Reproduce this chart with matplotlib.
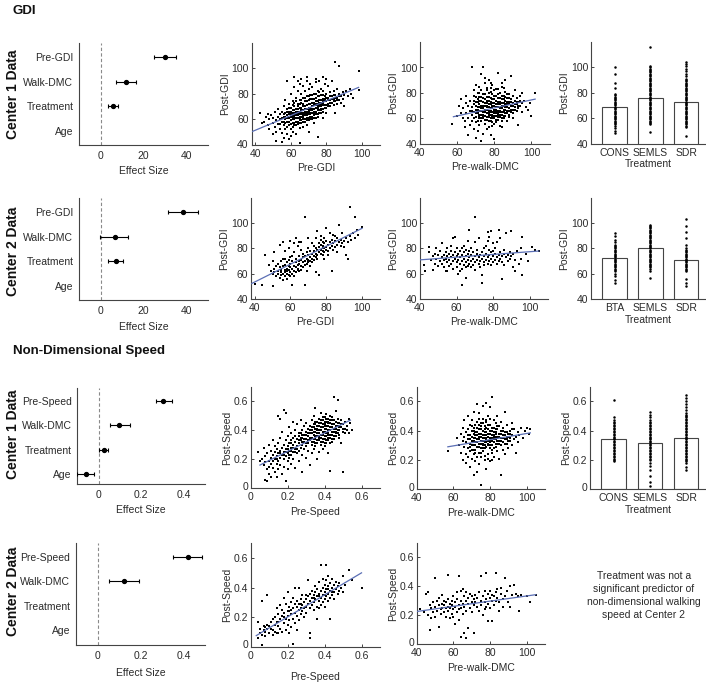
import numpy as np
import matplotlib
matplotlib.use('Agg')
import matplotlib.pyplot as plt
import matplotlib.transforms as mtransforms

plt.rcParams['font.family'] = ['Liberation Sans', 'DejaVu Sans']
TXT = '#2a2a2a'
AXC = '#444444'
FITC = '#5b6fb5'
NAN = np.nan

# ---------------- forest plot data ----------------
forest_labels_gdi = ['Pre-GDI', 'Walk-DMC', 'Treatment', 'Age']
forest_labels_spd = ['Pre-Speed', 'Walk-DMC', 'Treatment', 'Age']

c1_gdi_est = [29.9, 11.8, 5.9, NAN]
c1_gdi_lo = [24.9, 7.0, 3.3, NAN]
c1_gdi_hi = [34.9, 16.7, 8.2, NAN]

c2_gdi_est = [38.4, 6.6, 7.0, NAN]
c2_gdi_lo = [31.2, -0.3, 3.5, NAN]
c2_gdi_hi = [45.3, 13.0, 10.4, NAN]

c1_spd_est = [0.305, 0.096, 0.025, -0.06]
c1_spd_lo = [0.27, 0.053, 0.001, -0.10]
c1_spd_hi = [0.344, 0.146, 0.045, -0.02]

c2_spd_est = [0.42, 0.125, NAN, NAN]
c2_spd_lo = [0.353, 0.055, NAN, NAN]
c2_spd_hi = [0.486, 0.192, NAN, NAN]

# ---------------- scatter data ----------------
c1_gdi_pre = [
(45,58),(46,62),(47,55),(48,60),(48,52),(49,63),(50,57),(50,61),(51,54),(51,66),(52,59),(52,50),(53,62),(53,56),(53,68),
(54,52),(54,60),(54,64),(55,58),(55,49),(55,66),(56,62),(56,55),(56,70),(57,60),(57,52),(57,65),(57,75),(58,63),(58,58),
(58,48),(58,68),(58,90),(59,61),(59,55),(59,72),(59,66),(60,64),(60,59),(60,52),(60,69),(60,80),(60,47),(61,62),(61,57),
(61,67),(61,74),(61,50),(62,65),(62,60),(62,55),(62,70),(62,85),(63,63),(63,58),(63,68),(63,77),(63,48),(64,66),(64,61),
(64,56),(64,72),(64,82),(65,64),(65,59),(65,69),(65,75),(65,53),(65,88),(66,67),(66,62),(66,57),(66,73),(66,80),(67,65),
(67,60),(67,70),(67,77),(67,54),(67,86),(68,68),(68,63),(68,58),(68,74),(68,82),(69,66),(69,61),(69,71),(69,78),(69,55),
(69,90),(70,69),(70,64),(70,59),(70,75),(70,84),(70,50),(71,67),(71,72),(71,62),(71,79),(71,88),(72,70),(72,65),(72,60),
(72,76),(72,85),(73,68),(73,73),(73,63),(73,80),(73,57),(74,71),(74,66),(74,77),(74,89),(74,61),(75,69),(75,74),(75,64),
(75,82),(75,46),(76,72),(76,67),(76,78),(76,90),(77,70),(77,75),(77,65),(77,84),(78,73),(78,68),(78,79),(78,61),(79,71),
(79,76),(79,88),(80,74),(80,69),(80,80),(80,65),(81,72),(81,77),(81,86),(82,75),(82,70),(82,81),(83,73),(83,78),(83,90),
(84,76),(84,71),(84,82),(85,74),(85,79),(85,105),(85,65),(86,77),(86,72),(86,84),(87,80),(87,75),(87,102),(88,78),(88,73),
(89,81),(89,76),(90,79),(90,70),(91,82),(92,78),(93,84),(94,80),(95,77),(98,98),(98,83),(43,65),(44,57),(52,43),(55,42),
(65,41),(47,64),(50,48),(56,45),(59,44),(62,93),(64,90),(66,92),(74,92),(78,93),(80,92),(69,93),
(58,61),(59,64),(60,62),(61,60),(61,65),(62,63),(62,67),(63,61),(63,66),(64,63),(64,68),(65,62),(65,66),(66,64),(66,69),
(67,63),(67,67),(68,65),(68,70),(69,64),(69,68),(70,66),(70,72),(71,65),(71,69),(72,67),(72,73),(73,66),(73,71),(74,69),
(74,74),(75,67),(75,72),(76,70),(76,75),(77,68),(77,73),(78,71),(78,76),(79,74),
(54,56),(55,61),(56,58),(56,64),(57,57),(57,62),(58,54),(58,66),(59,58),(59,69),(60,56),(60,66),(61,54),(61,63),(61,71),
(62,57),(62,62),(62,73),(63,55),(63,64),(63,74),(64,58),(64,65),(64,70),(65,57),(65,61),(65,72),(66,59),(66,65),(66,75),
(67,58),(67,62),(67,72),(68,60),(68,66),(68,77),(69,59),(69,63),(69,74),(70,61),(70,67),(70,78),(71,60),(71,64),(71,76),
(72,62),(72,68),(72,79),(73,61),(73,65),(73,76),(74,64),(74,72),(74,80),(75,62),(75,70),(75,78),(76,65),(76,73),(76,81),
(77,67),(77,72),(77,79),(78,66),(78,74),(78,82),(79,69),(79,78),(80,71),(80,77),(81,70),(81,75),(82,73),(82,78),(83,76),
(84,74),(84,79),(85,77),(86,75),(87,78)]

c1_gdi_dmc = [
(57,56),(60,62),(62,75),(63,68),(64,58),(65,72),(65,64),(66,60),(66,70),(67,66),(67,55),(67,74),(68,100),(68,63),(68,69),
(68,58),(69,71),(69,65),(69,52),(69,78),(70,67),(70,61),(70,73),(70,57),(70,86),(71,64),(71,69),(71,75),(71,50),(72,66),
(72,60),(72,71),(72,80),(72,55),(73,68),(73,63),(73,74),(73,42),(73,58),(73,95),(74,100),(74,65),(74,70),(74,76),(74,60),
(74,48),(75,67),(75,72),(75,62),(75,79),(75,56),(75,88),(76,69),(76,64),(76,74),(76,59),(76,84),(77,66),(77,71),(77,61),
(77,77),(77,53),(77,90),(78,68),(78,63),(78,73),(78,58),(78,81),(78,47),(79,70),(79,65),(79,75),(79,60),(79,86),(80,67),
(80,72),(80,62),(80,78),(80,44),(80,56),(81,69),(81,64),(81,74),(81,83),(81,59),(82,71),(82,66),(82,76),(82,96),(82,61),
(83,68),(83,73),(83,63),(83,80),(83,54),(84,70),(84,65),(84,75),(84,88),(84,60),(85,67),(85,72),(85,78),(85,62),(85,84),
(86,69),(86,74),(86,64),(86,81),(87,71),(87,66),(87,76),(87,58),(88,68),(88,73),(88,79),(88,63),(89,70),(89,93),(89,75),
(89,65),(90,72),(90,67),(90,78),(90,60),(91,69),(91,74),(91,82),(92,71),(92,66),(92,76),(93,73),(93,68),(93,55),(94,70),
(94,78),(95,72),(95,65),(96,74),(97,69),(98,67),(99,72),(100,62),(102,80),(64,53),(66,47),(70,45),(76,52),(79,54),(84,53),
(72,85),(75,92),(78,88),(86,90),(69,82),(71,80),(65,78),(62,64),(63,60),(61,70),(95,80),
(71,67),(72,69),(73,66),(74,68),(75,70),(76,67),(77,69),(78,66),(79,68),(80,70),(81,67),(82,69),(83,66),(84,68),(76,72),
(78,71),(80,65),(82,64),(74,63),(72,63),(77,64),(79,63),(81,62),(83,71),(85,70),(86,67),(87,69),(88,66),
(68,66),(69,60),(69,74),(70,64),(70,70),(70,77),(71,58),(71,73),(72,62),(72,74),(72,77),(73,60),(73,70),(73,77),(74,62),
(74,73),(74,79),(75,59),(75,65),(75,75),(76,61),(76,70),(76,77),(77,58),(77,63),(77,74),(77,80),(78,60),(78,65),(78,76),
(79,57),(79,62),(79,72),(79,79),(80,60),(80,64),(80,75),(80,82),(81,57),(81,66),(81,71),(81,78),(82,59),(82,63),(82,73),
(82,79),(83,61),(83,65),(83,76),(84,58),(84,63),(84,72),(84,78),(85,60),(85,65),(85,75),(86,62),(86,71),(86,77),(87,64),
(87,73),(87,79),(88,61),(88,71),(88,76),(89,67),(89,73),(90,64),(90,70),(91,71),(91,67),(92,73),(93,70),(94,74),(78,84),
(82,83),(84,85),(76,82),(73,82)]

c2_gdi_pre = [
(40,52),(44,51),(46,75),(48,67),(49,62),(50,50),(50,60),(50,70),(51,64),(51,61),(51,77),(52,58),(52,66),(53,62),(53,68),
(53,60),(54,57),(54,65),(54,83),(55,61),(55,63),(55,70),(55,59),(56,60),(56,66),(56,72),(56,55),(56,85),(57,58),(57,63),
(57,67),(57,61),(57,78),(58,60),(58,64),(58,69),(58,56),(58,62),(59,66),(59,59),(59,71),(59,63),(59,80),(60,61),(60,65),
(60,58),(60,68),(60,86),(61,51),(61,64),(61,60),(61,70),(61,74),(62,62),(62,66),(62,58),(62,84),(62,77),(63,65),(63,61),
(63,69),(63,72),(63,88),(64,63),(64,67),(64,64),(64,82),(65,68),(65,62),(65,74),(65,70),(66,66),(66,71),(66,63),(66,79),
(66,85),(67,69),(67,73),(67,65),(67,76),(68,51),(68,105),(68,70),(68,67),(68,74),(69,72),(69,68),(69,77),(69,62),(70,71),
(70,75),(70,69),(70,80),(71,73),(71,70),(71,78),(71,66),(72,72),(72,76),(72,69),(72,84),(73,74),(73,78),(73,71),(73,82),
(74,76),(74,73),(74,80),(74,88),(75,75),(75,79),(75,72),(75,94),(76,77),(76,81),(76,59),(76,84),(77,79),(77,76),(77,83),
(77,87),(77,90),(78,78),(78,82),(78,85),(78,80),(78,75),(79,80),(79,84),(79,77),(79,88),(80,81),(80,79),(80,86),(80,96),
(81,83),(81,78),(81,75),(82,85),(82,80),(82,92),(83,62),(83,82),(83,87),(84,84),(84,79),(85,86),(85,81),(85,90),(86,83),
(86,88),(86,77),(87,85),(87,99),(88,87),(88,82),(89,84),(89,92),(90,86),(90,81),(91,75),(91,88),(92,72),(92,85),(93,113),
(93,90),(94,87),(95,92),(96,88),(96,105),(97,95),(98,91),(100,97),(57,72),(60,73),(65,85),(70,88),(74,61),(79,72),(84,91)]

c2_gdi_dmc = [
(42,67),(43,62),(45,81),(45,77),(46,71),(47,74),(47,63),(48,76),(48,68),(49,72),(49,80),(50,66),(50,75),(51,70),(51,78),
(52,73),(52,68),(52,84),(53,75),(53,71),(53,65),(54,77),(54,72),(54,62),(55,74),(55,69),(55,80),(55,62),(56,76),(56,71),
(56,66),(57,73),(57,78),(57,82),(57,68),(58,75),(58,70),(58,88),(58,64),(59,72),(59,77),(59,89),(60,74),(60,69),(60,80),
(60,65),(61,71),(61,76),(61,60),(62,73),(62,68),(62,78),(62,62),(63,75),(63,51),(63,70),(63,80),(63,64),(64,72),(64,77),
(64,67),(64,82),(65,74),(65,69),(65,79),(65,65),(65,57),(66,76),(66,71),(66,86),(66,66),(67,73),(67,68),(67,95),(67,78),
(68,75),(68,70),(68,80),(68,65),(69,72),(69,77),(69,67),(70,105),(70,74),(70,69),(70,85),(70,63),(71,76),(71,71),(71,79),
(72,73),(72,68),(72,88),(73,75),(73,70),(73,65),(74,53),(74,72),(74,77),(74,59),(75,74),(75,69),(75,80),(75,67),(76,76),
(76,71),(76,82),(77,73),(77,68),(77,86),(77,93),(78,75),(78,70),(78,79),(78,89),(79,72),(79,77),(79,94),(79,67),(80,74),
(80,69),(80,84),(80,78),(81,76),(81,71),(81,80),(82,73),(82,68),(82,85),(83,75),(83,70),(83,95),(84,77),(84,72),(84,88),
(85,56),(85,74),(85,69),(86,76),(86,79),(86,67),(87,73),(87,92),(88,75),(88,70),(89,77),(89,72),(90,74),(90,94),(91,76),
(91,65),(92,62),(92,71),(93,78),(94,68),(95,80),(95,72),(96,59),(96,89),(98,76),(99,70),(101,81),(103,79),(105,78)]

c1_spd_pre = [
(0.04,0.25),(0.05,0.19),(0.06,0.20),(0.07,0.16),(0.07,0.28),(0.08,0.18),(0.08,0.06),(0.08,0.22),(0.09,0.05),(0.09,0.13),
(0.09,0.24),(0.10,0.19),(0.10,0.15),(0.10,0.30),(0.10,0.10),(0.11,0.21),(0.11,0.17),(0.11,0.26),(0.11,0.08),(0.12,0.23),
(0.12,0.14),(0.12,0.19),(0.12,0.33),(0.13,0.20),(0.13,0.25),(0.13,0.11),(0.13,0.29),(0.14,0.22),(0.14,0.17),(0.14,0.27),
(0.14,0.08),(0.15,0.24),(0.15,0.50),(0.15,0.19),(0.15,0.31),(0.15,0.13),(0.16,0.48),(0.16,0.21),(0.16,0.26),(0.16,0.35),
(0.16,0.16),(0.17,0.23),(0.17,0.28),(0.17,0.10),(0.17,0.39),(0.18,0.54),(0.18,0.25),(0.18,0.20),(0.18,0.30),(0.18,0.15),
(0.19,0.52),(0.19,0.05),(0.19,0.27),(0.19,0.22),(0.19,0.33),(0.20,0.24),(0.20,0.29),(0.20,0.19),(0.20,0.36),(0.20,0.13),
(0.21,0.26),(0.21,0.31),(0.21,0.21),(0.21,0.42),(0.22,0.28),(0.22,0.23),(0.22,0.33),(0.22,0.17),(0.22,0.38),(0.23,0.30),
(0.23,0.25),(0.23,0.35),(0.23,0.46),(0.23,0.20),(0.24,0.27),(0.24,0.32),(0.24,0.40),(0.24,0.14),(0.25,0.29),(0.25,0.34),
(0.25,0.24),(0.25,0.44),(0.26,0.31),(0.26,0.36),(0.26,0.26),(0.26,0.19),(0.27,0.33),(0.27,0.28),(0.27,0.38),(0.27,0.47),
(0.28,0.35),(0.28,0.30),(0.28,0.40),(0.28,0.23),(0.28,0.11),(0.29,0.32),(0.29,0.37),(0.29,0.27),(0.29,0.43),(0.30,0.34),
(0.30,0.39),(0.30,0.29),(0.30,0.45),(0.30,0.21),(0.31,0.36),(0.31,0.31),(0.31,0.41),(0.31,0.26),(0.32,0.38),(0.32,0.33),
(0.32,0.43),(0.32,0.16),(0.33,0.35),(0.33,0.40),(0.33,0.30),(0.33,0.47),(0.33,0.24),(0.34,0.37),(0.34,0.42),(0.34,0.32),
(0.34,0.50),(0.34,0.27),(0.35,0.39),(0.35,0.34),(0.35,0.44),(0.35,0.55),(0.35,0.29),(0.36,0.36),(0.36,0.41),(0.36,0.31),
(0.36,0.46),(0.36,0.20),(0.37,0.38),(0.37,0.43),(0.37,0.33),(0.37,0.48),(0.37,0.25),(0.38,0.40),(0.38,0.35),(0.38,0.45),
(0.38,0.30),(0.38,0.52),(0.39,0.37),(0.39,0.42),(0.39,0.32),(0.39,0.47),(0.39,0.27),(0.40,0.39),(0.40,0.44),(0.40,0.34),
(0.40,0.49),(0.40,0.29),(0.41,0.41),(0.41,0.36),(0.41,0.46),(0.41,0.31),(0.41,0.51),(0.42,0.38),(0.42,0.43),(0.42,0.33),
(0.42,0.48),(0.42,0.24),(0.43,0.40),(0.43,0.45),(0.43,0.35),(0.43,0.12),(0.43,0.50),(0.44,0.42),(0.44,0.37),(0.44,0.47),
(0.44,0.32),(0.45,0.63),(0.45,0.39),(0.45,0.44),(0.45,0.34),(0.46,0.41),(0.46,0.46),(0.46,0.36),(0.46,0.53),(0.47,0.61),
(0.47,0.43),(0.47,0.38),(0.47,0.48),(0.48,0.40),(0.48,0.45),(0.48,0.35),(0.49,0.42),(0.49,0.47),(0.49,0.31),(0.50,0.11),
(0.50,0.44),(0.50,0.39),(0.51,0.46),(0.51,0.41),(0.52,0.43),(0.53,0.48),(0.53,0.38),(0.54,0.45),(0.55,0.40),
(0.34,0.39),(0.35,0.41),(0.36,0.38),(0.37,0.40),(0.38,0.42),(0.39,0.39),(0.40,0.41),(0.41,0.38),(0.42,0.40),(0.43,0.42),
(0.44,0.39),(0.45,0.41),(0.36,0.43),(0.38,0.37),(0.40,0.36),(0.42,0.45),(0.44,0.44),(0.39,0.44),(0.41,0.43),(0.37,0.36),
(0.43,0.37),(0.35,0.36),(0.46,0.39),(0.33,0.38),(0.40,0.46),(0.42,0.35),
(0.26,0.33),(0.27,0.35),(0.28,0.32),(0.29,0.34),(0.30,0.31),(0.30,0.37),(0.31,0.33),(0.31,0.38),(0.32,0.35),(0.32,0.40),
(0.33,0.32),(0.33,0.42),(0.34,0.34),(0.34,0.44),(0.35,0.31),(0.35,0.46),(0.36,0.33),(0.36,0.40),(0.37,0.35),(0.37,0.45),
(0.38,0.32),(0.38,0.47),(0.39,0.34),(0.39,0.49),(0.40,0.31),(0.40,0.43),(0.41,0.33),(0.41,0.48),(0.42,0.37),(0.42,0.46),
(0.43,0.31),(0.43,0.47),(0.44,0.34),(0.44,0.49),(0.45,0.36),(0.45,0.47),(0.46,0.38),(0.46,0.43),(0.47,0.40),(0.47,0.45),
(0.48,0.42),(0.48,0.37),(0.49,0.44),(0.50,0.41),(0.51,0.38),(0.52,0.40),(0.20,0.27),(0.21,0.23),(0.22,0.26),(0.23,0.28),
(0.24,0.25),(0.25,0.27),(0.18,0.23),(0.16,0.24),(0.14,0.20),(0.24,0.36),(0.26,0.38),(0.28,0.37),(0.22,0.31),(0.19,0.25)]

c1_spd_dmc = [
(57,0.26),(62,0.35),(63,0.30),(64,0.38),(64,0.25),(65,0.33),(65,0.42),(65,0.20),(66,0.36),(66,0.29),(66,0.47),(67,0.32),
(67,0.39),(67,0.24),(67,0.18),(68,0.34),(68,0.41),(68,0.28),(68,0.50),(68,0.22),(69,0.37),(69,0.31),(69,0.44),(69,0.26),
(69,0.15),(70,0.33),(70,0.40),(70,0.27),(70,0.47),(70,0.21),(71,0.35),(71,0.30),(71,0.42),(71,0.10),(71,0.24),(71,0.53),
(72,0.37),(72,0.32),(72,0.44),(72,0.27),(72,0.19),(73,0.34),(73,0.58),(73,0.12),(73,0.39),(73,0.29),(73,0.46),(74,0.36),
(74,0.31),(74,0.41),(74,0.25),(74,0.52),(74,0.17),(75,0.03),(75,0.33),(75,0.38),(75,0.28),(75,0.45),(75,0.22),(76,0.57),
(76,0.35),(76,0.30),(76,0.40),(76,0.48),(76,0.26),(77,0.37),(77,0.32),(77,0.43),(77,0.20),(77,0.28),(78,0.59),(78,0.34),
(78,0.39),(78,0.29),(78,0.46),(78,0.14),(79,0.36),(79,0.31),(79,0.41),(79,0.24),(79,0.50),(80,0.56),(80,0.33),(80,0.38),
(80,0.28),(80,0.44),(80,0.19),(81,0.63),(81,0.35),(81,0.30),(81,0.40),(81,0.25),(82,0.37),(82,0.32),(82,0.42),(82,0.47),
(82,0.22),(83,0.34),(83,0.39),(83,0.29),(83,0.45),(84,0.36),(84,0.31),(84,0.41),(84,0.26),(84,0.50),(85,0.33),(85,0.38),
(85,0.43),(85,0.21),(86,0.10),(86,0.35),(86,0.30),(86,0.40),(86,0.46),(87,0.37),(87,0.32),(87,0.27),(87,0.42),(88,0.53),
(88,0.34),(88,0.39),(88,0.24),(89,0.36),(89,0.31),(89,0.44),(90,0.38),(90,0.33),(90,0.28),(91,0.40),(91,0.35),(92,0.37),
(92,0.30),(92,0.45),(93,0.34),(93,0.41),(94,0.36),(94,0.25),(95,0.39),(95,0.32),(96,0.37),(97,0.42),(98,0.35),(99,0.40),
(100,0.42),(101,0.38),(102,0.41),
(70,0.36),(71,0.38),(72,0.35),(73,0.37),(74,0.34),(75,0.36),(76,0.33),(77,0.35),(78,0.37),(79,0.33),(80,0.35),(81,0.37),
(82,0.34),(83,0.36),(72,0.30),(74,0.29),(76,0.31),(78,0.32),(80,0.30),(82,0.28),(84,0.33),(75,0.41),(77,0.39),(79,0.38),
(81,0.42),(83,0.41),
(68,0.37),(69,0.34),(70,0.30),(70,0.43),(71,0.33),(71,0.40),(72,0.39),(72,0.25),(73,0.32),(73,0.42),(74,0.38),(74,0.44),
(75,0.31),(75,0.43),(76,0.37),(76,0.28),(77,0.30),(77,0.41),(78,0.35),(78,0.42),(79,0.30),(79,0.44),(80,0.32),(80,0.40),
(81,0.33),(81,0.27),(82,0.36),(82,0.39),(83,0.31),(83,0.38),(84,0.35),(84,0.43),(85,0.31),(85,0.36),(86,0.33),(86,0.38),
(87,0.35),(87,0.40),(88,0.31),(88,0.37),(89,0.34),(89,0.39),(90,0.36),(91,0.33),(91,0.38),(92,0.41),(73,0.22),(75,0.25),
(77,0.23),(79,0.21),(81,0.20),(71,0.27),(69,0.29),(76,0.45),(78,0.47),(80,0.48),(74,0.48)]

c2_spd_pre = [
(0.04,0.17),(0.04,0.06),(0.05,0.09),(0.05,0.12),(0.06,0.31),(0.06,0.01),(0.06,0.08),(0.07,0.11),(0.07,0.14),(0.08,0.10),
(0.08,0.07),(0.08,0.13),(0.09,0.35),(0.09,0.12),(0.09,0.15),(0.10,0.09),(0.10,0.14),(0.11,0.17),(0.11,0.12),(0.12,0.19),
(0.12,0.08),(0.13,0.15),(0.13,0.20),(0.13,0.10),(0.14,0.17),(0.14,0.09),(0.14,0.26),(0.15,0.14),(0.15,0.22),(0.15,0.09),
(0.16,0.19),(0.16,0.28),(0.16,0.12),(0.17,0.21),(0.17,0.10),(0.17,0.25),(0.18,0.16),(0.18,0.33),(0.18,0.23),(0.19,0.19),
(0.19,0.11),(0.19,0.29),(0.20,0.37),(0.20,0.24),(0.20,0.15),(0.20,0.21),(0.21,0.27),(0.21,0.18),(0.21,0.09),(0.22,0.22),
(0.22,0.30),(0.22,0.25),(0.22,0.13),(0.23,0.02),(0.23,0.26),(0.23,0.19),(0.23,0.33),(0.24,0.40),(0.24,0.23),(0.24,0.29),
(0.24,0.16),(0.25,0.27),(0.25,0.21),(0.25,0.31),(0.25,0.11),(0.26,0.40),(0.26,0.25),(0.26,0.29),(0.26,0.18),(0.27,0.26),
(0.27,0.32),(0.27,0.22),(0.28,0.28),(0.28,0.24),(0.28,0.35),(0.29,0.30),(0.29,0.20),(0.29,0.26),(0.30,0.32),(0.30,0.27),
(0.30,0.23),(0.31,0.29),(0.31,0.34),(0.31,0.45),(0.32,0.06),(0.32,0.09),(0.32,0.31),(0.32,0.26),(0.32,0.36),(0.33,0.33),
(0.33,0.28),(0.33,0.38),(0.34,0.30),(0.34,0.35),(0.34,0.25),(0.35,0.32),(0.35,0.37),(0.35,0.41),(0.36,0.19),(0.36,0.34),
(0.36,0.27),(0.36,0.39),(0.37,0.36),(0.37,0.31),(0.37,0.44),(0.37,0.26),(0.38,0.55),(0.38,0.33),(0.38,0.38),(0.38,0.28),
(0.39,0.35),(0.39,0.40),(0.39,0.30),(0.39,0.46),(0.40,0.37),(0.40,0.32),(0.40,0.42),(0.40,0.27),(0.41,0.55),(0.41,0.34),
(0.41,0.39),(0.41,0.45),(0.42,0.36),(0.42,0.31),(0.42,0.41),(0.42,0.48),(0.43,0.19),(0.43,0.38),(0.43,0.33),(0.43,0.43),
(0.44,0.35),(0.44,0.40),(0.44,0.46),(0.45,0.37),(0.45,0.42),(0.45,0.32),(0.46,0.39),(0.46,0.44),(0.47,0.36),(0.47,0.41),
(0.48,0.38),(0.48,0.43),(0.49,0.40),(0.50,0.37),(0.50,0.48),(0.51,0.42),(0.53,0.52),(0.55,0.45),(0.60,0.40),(0.12,0.11),
(0.15,0.17),(0.18,0.20),(0.21,0.24),(0.27,0.29),(0.30,0.35),(0.34,0.33),(0.37,0.34),(0.40,0.35),(0.42,0.39),(0.44,0.37)]

c2_spd_dmc = [
(42,0.24),(44,0.22),(45,0.35),(46,0.36),(46,0.20),(47,0.10),(47,0.27),(48,0.18),(48,0.25),(49,0.29),(49,0.22),(50,0.46),
(50,0.26),(50,0.19),(51,0.30),(51,0.23),(52,0.12),(52,0.27),(52,0.32),(53,0.24),(53,0.21),(54,0.28),(54,0.34),(54,0.25),
(55,0.22),(55,0.30),(55,0.27),(56,0.25),(56,0.19),(56,0.29),(57,0.48),(57,0.26),(57,0.23),(57,0.31),(58,0.18),(58,0.28),
(58,0.25),(59,0.21),(59,0.30),(59,0.27),(60,0.24),(60,0.33),(60,0.19),(61,0.14),(61,0.26),(61,0.29),(62,0.22),(62,0.31),
(62,0.36),(63,0.47),(63,0.27),(63,0.24),(63,0.17),(64,0.05),(64,0.30),(64,0.37),(64,0.25),(65,0.28),(65,0.21),(65,0.38),
(66,0.08),(66,0.33),(66,0.26),(67,0.04),(67,0.30),(67,0.23),(67,0.36),(68,0.11),(68,0.28),(68,0.32),(69,0.25),(69,0.35),
(70,0.29),(70,0.33),(70,0.22),(71,0.08),(71,0.31),(71,0.27),(72,0.34),(72,0.29),(73,0.26),(73,0.32),(74,0.36),(74,0.23),
(75,0.47),(75,0.30),(75,0.27),(76,0.33),(76,0.20),(77,0.29),(77,0.24),(77,0.37),(78,0.49),(78,0.31),(78,0.26),(79,0.35),
(79,0.16),(79,0.28),(80,0.32),(80,0.37),(80,0.25),(81,0.30),(81,0.34),(81,0.16),(82,0.33),(82,0.27),(83,0.49),(83,0.36),
(83,0.30),(84,0.32),(84,0.38),(85,0.29),(85,0.23),(86,0.35),(86,0.39),(87,0.31),(87,0.26),(88,0.46),(88,0.33),(89,0.37),
(90,0.29),(91,0.40),(91,0.26),(92,0.34),(93,0.41),(94,0.35),(95,0.33),(96,0.23),(97,0.34),(100,0.33),(102,0.29),(105,0.34)]

# fitted regression line endpoints: (x0, x1, y0, y1)
fit_c1_gdi_pre = (38, 98, 50, 85)
fit_c1_gdi_dmc = (58, 102, 61.4, 75.2)
fit_c2_gdi_pre = (38, 100, 52, 96)
fit_c2_gdi_dmc = (40, 105, 71, 78)
fit_c1_spd_pre = (0.05, 0.54, 0.16, 0.47)
fit_c1_spd_dmc = (57, 102, 0.29, 0.385)
fit_c2_spd_pre = (0.03, 0.60, 0.075, 0.50)
fit_c2_spd_dmc = (40, 105, 0.226, 0.342)

# ---------------- bar data ----------------
c1_gdi_cats = ['CONS', 'SEMLS', 'SDR']
c1_gdi_means = [68.6, 75.7, 72.8]
c1_gdi_pts = [
    [48, 50, 52, 54, 55, 56, 57, 58, 59, 60, 61, 62, 63, 64, 65, 66, 67, 68, 69, 70, 71, 72, 73, 74, 75, 76, 77, 78, 79,
     84, 88, 95, 100],
    [49, 55, 56, 57, 58, 59, 60, 61, 62, 63, 64, 65, 66, 67, 68, 69, 70, 71, 72, 73, 74, 75, 76, 77, 78, 79, 80, 81, 82,
     83, 84, 85, 86, 87, 88, 89, 90, 91, 92, 93, 94, 95, 96, 97, 98, 99, 100, 101, 116],
    [46, 53, 54, 55, 56, 57, 58, 59, 60, 61, 62, 63, 64, 65, 66, 67, 68, 69, 70, 71, 72, 73, 74, 75, 76, 77, 78, 79, 80,
     81, 82, 83, 84, 85, 86, 87, 88, 89, 90, 91, 93, 95, 97, 99, 101, 103, 104]]

c2_gdi_cats = ['BTA', 'SEMLS', 'SDR']
c2_gdi_means = [72.6, 80.0, 71.2]
c2_gdi_pts = [
    [53, 55, 58, 60, 62, 63, 64, 65, 66, 67, 68, 69, 70, 71, 72, 73, 74, 75, 76, 77, 78, 79, 80, 81, 82, 83, 85, 87, 90, 92],
    [57, 62, 64, 65, 66, 67, 68, 69, 70, 71, 72, 73, 74, 75, 76, 77, 78, 79, 80, 81, 82, 83, 84, 85, 86, 87, 88, 89, 90,
     91, 92, 93, 94, 95, 96, 97, 98, 99],
    [50, 53, 56, 62, 63, 64, 65, 66, 67, 68, 69, 70, 71, 72, 73, 74, 75, 76, 77, 78, 79, 80, 83, 88, 93, 98, 103]]

c1_spd_cats = ['CONS', 'SEMLS', 'SDR']
c1_spd_means = [0.346, 0.313, 0.348]
c1_spd_pts = [
    [0.19, 0.20, 0.21, 0.22, 0.23, 0.24, 0.25, 0.26, 0.27, 0.28, 0.29, 0.30, 0.31, 0.32, 0.33, 0.34, 0.35, 0.36, 0.37,
     0.38, 0.39, 0.40, 0.41, 0.42, 0.43, 0.44, 0.45, 0.46, 0.47, 0.49, 0.61],
    [0.02, 0.05, 0.09, 0.13, 0.16, 0.18, 0.20, 0.21, 0.22, 0.23, 0.24, 0.25, 0.26, 0.27, 0.28, 0.29, 0.30, 0.31, 0.32,
     0.33, 0.34, 0.35, 0.36, 0.37, 0.38, 0.39, 0.40, 0.41, 0.42, 0.43, 0.44, 0.45, 0.46, 0.47, 0.49, 0.51, 0.53],
    [0.13, 0.15, 0.18, 0.19, 0.20, 0.21, 0.22, 0.23, 0.24, 0.25, 0.26, 0.27, 0.28, 0.29, 0.30, 0.31, 0.32, 0.33, 0.34,
     0.35, 0.36, 0.37, 0.38, 0.39, 0.40, 0.41, 0.42, 0.43, 0.44, 0.45, 0.46, 0.47, 0.48, 0.49, 0.50, 0.51, 0.52, 0.54,
     0.56, 0.58, 0.60, 0.62, 0.64]]

note_text = 'Treatment was not a\nsignificant predictor of\nnon-dimensional walking\nspeed at Center 2'

# ---------------- layout ----------------
W, H = 706, 688
fig = plt.figure(figsize=(W / 100, H / 100), dpi=100)


def add_ax(L, R, T, B):
    return fig.add_axes([L / W, 1 - B / H, (R - L) / W, (B - T) / H])


def style(ax):
    for s in ['top', 'right']:
        ax.spines[s].set_visible(False)
    for s in ['left', 'bottom']:
        ax.spines[s].set_color(AXC)
        ax.spines[s].set_linewidth(0.8)
    ax.tick_params(direction='in', length=2.5, width=0.7, colors=AXC, labelcolor=TXT,
                   labelsize=7.5, pad=2)
    ax.tick_params(axis='x', pad=3)


def fmt(v):
    return '0' if v == 0 else ('%g' % v)


def lift_zero_label(ax):
    # nudge the "0" y tick label up slightly so it clears the x tick labels
    off = mtransforms.ScaledTranslation(0, 2.0 / 72, fig.dpi_scale_trans)
    lab = ax.get_yticklabels()[0]
    lab.set_transform(lab.get_transform() + off)


def forest(box, labels, est, lo, hi, xlim, xticks, ylim, xpad):
    ax = add_ax(*box)
    style(ax)
    ax.axvline(0, color='#8a8a8a', ls=(0, (3, 2)), lw=0.8, zorder=1)
    for i in range(len(labels)):
        if np.isnan(est[i]):
            continue
        ax.errorbar([est[i]], [i], xerr=[[est[i] - lo[i]], [hi[i] - est[i]]], fmt='o', color='k',
                    ms=2.8, capsize=1.5, elinewidth=0.8, capthick=0.8, zorder=3)
    ax.set_xlim(*xlim)
    ax.set_ylim(*ylim)
    ax.set_yticks(range(len(labels)))
    ax.set_yticklabels(labels)
    ax.tick_params(axis='y', length=0, pad=4)
    ax.tick_params(axis='x', length=0, pad=4)
    ax.set_xticks(xticks)
    ax.set_xticklabels([fmt(v) for v in xticks])
    ax.set_xlabel('Effect Size', fontsize=7.5, color=TXT, labelpad=xpad)
    return ax


def scatter(box, pts, fit, xlim, xticks, ylim, yticks, xlabel, ylabel, xpad=3):
    ax = add_ax(*box)
    style(ax)
    p = np.array(pts, dtype=float)
    ax.plot(p[:, 0], p[:, 1], 's', color='k', ms=1.6, mew=0, zorder=2)
    x0, x1, y0, y1 = fit
    ax.plot([x0, x1], [y0, y1], color=FITC, lw=0.9, zorder=3)
    ax.set_xlim(*xlim)
    ax.set_ylim(*ylim)
    ax.set_xticks(xticks)
    ax.set_xticklabels([fmt(v) for v in xticks])
    ax.set_yticks(yticks)
    ax.set_yticklabels([fmt(v) for v in yticks])
    ax.set_xlabel(xlabel, fontsize=7.5, color=TXT, labelpad=xpad)
    ax.set_ylabel(ylabel, fontsize=7.5, color=TXT, labelpad=1)
    if ylim[0] == 0:
        lift_zero_label(ax)
    return ax


def bars(box, cats, means, pts, ylim, yticks, ylabel):
    ax = add_ax(*box)
    style(ax)
    xs = np.arange(1, len(cats) + 1)
    ax.bar(xs, means, width=0.68, bottom=0, color='white', edgecolor=AXC, lw=0.8, zorder=1)
    for x, vals in zip(xs, pts):
        ax.plot(np.full(len(vals), x), vals, 'o', color='k', ms=1.8, mew=0, zorder=3)
    ax.set_xlim(0.345, 3.55)
    ax.set_ylim(*ylim)
    ax.set_xticks(xs)
    ax.set_xticklabels(cats)
    ax.tick_params(axis='x', length=0, pad=3)
    ax.set_yticks(yticks)
    ax.set_yticklabels([fmt(v) for v in yticks])
    ax.set_xlabel('Treatment', fontsize=7.5, color=TXT, labelpad=1)
    ax.set_ylabel(ylabel, fontsize=7.5, color=TXT, labelpad=1)
    if ylim[0] == 0:
        lift_zero_label(ax)
    return ax


gdi_ticks = [40, 60, 80, 100]
spd_ticks = [0, 0.2, 0.4, 0.6]

# Row 1: GDI, Center 1
forest((79, 208, 43, 145), forest_labels_gdi, c1_gdi_est, c1_gdi_lo, c1_gdi_hi,
       (-10, 50), [0, 20, 40], (3.55, -0.55), 4)
scatter((251.5, 380, 43, 144.5), c1_gdi_pre, fit_c1_gdi_pre, (38, 110), gdi_ticks, (40, 120), gdi_ticks,
        'Pre-GDI', 'Post-GDI')
scatter((420, 550, 42, 144), c1_gdi_dmc, fit_c1_gdi_dmc, (40, 110), gdi_ticks, (40, 120), gdi_ticks,
        'Pre-walk-DMC', 'Post-GDI')
bars((591, 706, 42, 143.5), c1_gdi_cats, c1_gdi_means, c1_gdi_pts, (40, 120), gdi_ticks, 'Post-GDI')

# Row 2: GDI, Center 2
forest((79, 208, 198, 300), forest_labels_gdi, c2_gdi_est, c2_gdi_lo, c2_gdi_hi,
       (-10, 50), [0, 20, 40], (3.57, -0.58), 5)
scatter((251, 380, 198, 299), c2_gdi_pre, fit_c2_gdi_pre, (38, 110), gdi_ticks, (40, 120), gdi_ticks,
        'Pre-GDI', 'Post-GDI')
scatter((420, 548, 198, 299), c2_gdi_dmc, fit_c2_gdi_dmc, (40, 110), gdi_ticks, (40, 120), gdi_ticks,
        'Pre-walk-DMC', 'Post-GDI')
bars((591, 706, 198, 299), c2_gdi_cats, c2_gdi_means, c2_gdi_pts, (40, 120), gdi_ticks, 'Post-GDI')

# Row 3: Speed, Center 1
forest((77.3, 205, 387.7, 484.3), forest_labels_spd, c1_spd_est, c1_spd_lo, c1_spd_hi,
       (-0.1, 0.5), [0, 0.2, 0.4], (3.42, -0.55), 4)
scatter((250.7, 380, 386.7, 488.3), c1_spd_pre, fit_c1_spd_pre, (0, 0.7), spd_ticks, (0, 0.7), spd_ticks,
        'Pre-Speed', 'Post-Speed')
scatter((416.7, 545, 386.7, 489.3), c1_spd_dmc, fit_c1_spd_dmc, (40, 110), gdi_ticks, (0, 0.7), spd_ticks,
        'Pre-walk-DMC', 'Post-Speed')
bars((590, 706, 386.7, 489.3), c1_spd_cats, c1_spd_means, c1_spd_pts, (0, 0.7), spd_ticks, 'Post-Speed')

# Row 4: Speed, Center 2
forest((76, 205, 542.7, 645), forest_labels_spd, c2_spd_est, c2_spd_lo, c2_spd_hi,
       (-0.1, 0.5), [0, 0.2, 0.4], (3.6, -0.57), 5)
scatter((250.7, 380, 543.3, 646.7), c2_spd_pre, fit_c2_spd_pre, (0, 0.7), spd_ticks, (0, 0.7), spd_ticks,
        'Pre-Speed', 'Post-Speed', xpad=8)
scatter((416.7, 545, 542.7, 644.3), c2_spd_dmc, fit_c2_spd_dmc, (40, 110), gdi_ticks, (0, 0.7), spd_ticks,
        'Pre-walk-DMC', 'Post-Speed')

# Titles, row labels, note
fig.text(12.7 / W, 1 - 11 / H, 'GDI', fontsize=9.5, fontweight='bold', color='#111', ha='left', va='center')
fig.text(12.7 / W, 1 - 350.7 / H, 'Non-Dimensional Speed', fontsize=9.5, fontweight='bold', color='#111',
         ha='left', va='center')
for yc, lab in [(94, 'Center 1 Data'), (251, 'Center 2 Data'), (434, 'Center 1 Data'), (591.5, 'Center 2 Data')]:
    fig.text(13 / W, 1 - yc / H, lab, fontsize=10, fontweight='bold', color='#111', rotation=90,
             ha='center', va='center')
fig.text(644 / W, 1 - 595.5 / H, note_text, fontsize=7.5, color=TXT, ha='center', va='center',
         linespacing=1.35)

fig.savefig('out.png', dpi=100)
